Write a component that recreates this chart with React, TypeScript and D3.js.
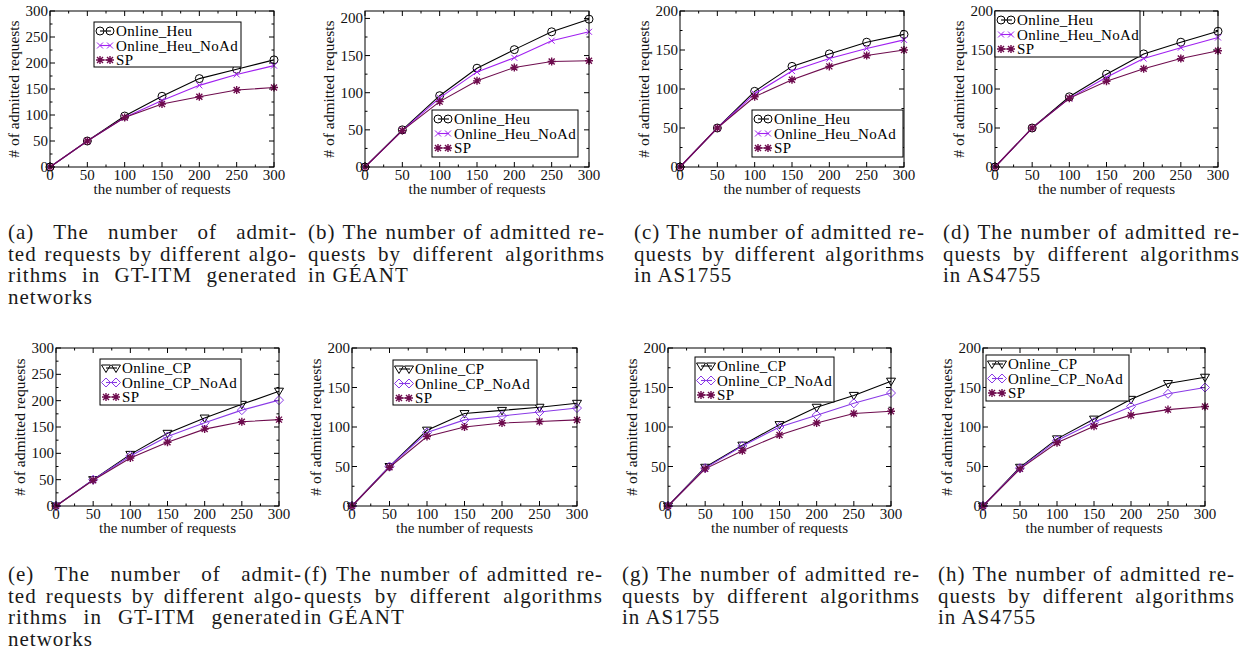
import React, { useLayoutEffect, useRef } from "react";
import * as d3 from "d3";

const requests = [0, 50, 100, 150, 200, 250, 300];

// top row: Online_Heu experiments
const heuGtItm = [0, 50, 98, 136, 170, 188, 206];
const heuNoAdGtItm = [0, 50, 95, 128, 157, 178, 195];
const spGtItmA = [0, 50, 95, 121, 135, 148, 153];
const heuGeant = [0, 50, 96, 133, 158, 182, 199];
const heuNoAdGeant = [0, 49, 93, 128, 147, 170, 182];
const spGeantB = [0, 49, 88, 116, 134, 142, 143];
const heuAs1755 = [0, 50, 97, 129, 145, 160, 170];
const heuNoAdAs1755 = [0, 50, 94, 123, 139, 152, 163];
const spAs1755C = [0, 50, 90, 112, 129, 143, 150];
const heuAs4755 = [0, 50, 90, 119, 145, 160, 174];
const heuNoAdAs4755 = [0, 50, 88, 115, 139, 153, 166];
const spAs4755D = [0, 50, 88, 110, 126, 139, 149];

// bottom row: Online_CP experiments
const cpGtItm = [0, 50, 98, 138, 167, 193, 218];
const cpNoAdGtItm = [0, 50, 95, 132, 158, 182, 201];
const spGtItmE = [0, 49, 91, 121, 146, 160, 164];
const cpGeant = [0, 50, 96, 117, 121, 125, 130];
const cpNoAdGeant = [0, 50, 93, 109, 114, 119, 124];
const spGeantF = [0, 49, 88, 100, 105, 107, 109];
const cpAs1755 = [0, 49, 77, 103, 125, 140, 158];
const cpNoAdAs1755 = [0, 48, 76, 100, 115, 130, 143];
const spAs1755G = [0, 47, 70, 90, 105, 117, 120];
const cpAs4755 = [0, 49, 85, 110, 135, 155, 163];
const cpNoAdAs4755 = [0, 48, 83, 106, 126, 142, 150];
const spAs4755H = [0, 47, 80, 101, 115, 122, 126];

const heuNames = ["Online_Heu", "Online_Heu_NoAd", "SP"];
const cpNames = ["Online_CP", "Online_CP_NoAd", "SP"];

const captionGtItm = (l: string) => [
  `(${l}) The number of admit-`,
  "ted requests by different algo-",
  "rithms in GT-ITM generated",
  "networks",
];
const captionNet = (l: string, net: string) => [
  `(${l}) The number of admitted re-`,
  "quests by different algorithms",
  `in ${net}`,
];

const BLACK = "#000000";
const VIOLET = "#a020f0";
const BLUEVIOLET = "#8a3ae6";
const MAROON = "#6e0c4e";
const SERIF = "'Liberation Serif', 'Times New Roman', serif";

const heuStyles = [
  { color: BLACK, marker: "circle" },
  { color: VIOLET, marker: "cross" },
  { color: MAROON, marker: "star" },
];
const cpStyles = [
  { color: BLACK, marker: "triangle" },
  { color: BLUEVIOLET, marker: "diamond" },
  { color: MAROON, marker: "star" },
];

const panels = [
  { left: 50, right: 274, top: 11, bottom: 167, yMax: 300, data: [heuGtItm, heuNoAdGtItm, spGtItmA], names: heuNames, styles: heuStyles, legend: [94, 22, 147, 45], caption: captionGtItm("a"), cx: 8, cw: 289, cy: 239 },
  { left: 365, right: 589, top: 11, bottom: 167, yMax: 210, data: [heuGeant, heuNoAdGeant, spGeantB], names: heuNames, styles: heuStyles, legend: [432, 110, 146, 47], caption: captionNet("b", "GÉANT"), cx: 308, cw: 297, cy: 239 },
  { left: 680, right: 904, top: 11, bottom: 167, yMax: 200, data: [heuAs1755, heuNoAdAs1755, spAs1755C], names: heuNames, styles: heuStyles, legend: [752, 110, 151, 47], caption: captionNet("c", "AS1755"), cx: 634, cw: 291, cy: 239 },
  { left: 995, right: 1218, top: 11, bottom: 167, yMax: 200, data: [heuAs4755, heuNoAdAs4755, spAs4755D], names: heuNames, styles: heuStyles, legend: [995, 11, 145, 46], caption: captionNet("d", "AS4755"), cx: 943, cw: 297, cy: 239 },
  { left: 56, right: 279, top: 348, bottom: 506, yMax: 300, data: [cpGtItm, cpNoAdGtItm, spGtItmE], names: cpNames, styles: cpStyles, legend: [100, 359, 141, 46], caption: captionGtItm("e"), cx: 8, cw: 294, cy: 581 },
  { left: 352, right: 577, top: 348, bottom: 506, yMax: 200, data: [cpGeant, cpNoAdGeant, spGeantF], names: cpNames, styles: cpStyles, legend: [393, 360, 144, 45], caption: captionNet("f", "GÉANT"), cx: 304, cw: 299, cy: 581 },
  { left: 668, right: 891, top: 348, bottom: 506, yMax: 200, data: [cpAs1755, cpNoAdAs1755, spAs1755G], names: cpNames, styles: cpStyles, legend: [695, 357, 139, 45], caption: captionNet("g", "AS1755"), cx: 622, cw: 298, cy: 581 },
  { left: 983, right: 1205, top: 348, bottom: 506, yMax: 200, data: [cpAs4755, cpNoAdAs4755, spAs4755H], names: cpNames, styles: cpStyles, legend: [986, 355, 143, 46], caption: captionNet("h", "AS4755"), cx: 938, cw: 297, cy: 581 },
];

function Marker({ type, x, y, color }: { type: string; x: number; y: number; color: string }) {
  const common = { stroke: color, strokeWidth: 1, fill: "none" };
  if (type === "circle") return <circle cx={x} cy={y} r={4} {...common} />;
  if (type === "cross")
    return <path d={`M${x - 3},${y - 3}L${x + 3},${y + 3}M${x - 3},${y + 3}L${x + 3},${y - 3}`} {...common} />;
  if (type === "star")
    return (
      <path
        d={`M${x - 3},${y - 3}L${x + 3},${y + 3}M${x - 3},${y + 3}L${x + 3},${y - 3}M${x - 4},${y}L${x + 4},${y}M${x},${y - 4}L${x},${y + 4}`}
        {...common}
        strokeWidth={1.4}
      />
    );
  if (type === "triangle")
    return <path d={`M${x - 4.5},${y - 3}L${x + 4.5},${y - 3}L${x},${y + 4.5}Z`} {...common} />;
  return <path d={`M${x},${y - 4.5}L${x + 4.5},${y}L${x},${y + 4.5}L${x - 4.5},${y}Z`} {...common} />;
}

function Panel({ p }: { p: any }) {
  const x = d3.scaleLinear().domain([0, 300]).range([p.left, p.right]);
  const y = d3.scaleLinear().domain([0, p.yMax]).range([p.bottom, p.top]);
  const xMajor = d3.range(0, 301, 50);
  const xMinor = d3.range(25, 300, 50);
  const yMajor = d3.range(0, p.yMax + 1, 50);
  const yMinor = d3.range(25, p.yMax, 50);
  const line = d3
    .line<number>()
    .x((_, i) => x(requests[i]))
    .y((d) => y(d));
  const maj = 5;
  const min = 2.5;
  const [lx, ly, lw, lh] = p.legend;
  return (
    <g>
      {/* ticks, inward on all four sides */}
      <g stroke="#000" strokeWidth={1}>
        {xMajor.map((t) => (
          <g key={"xM" + t}>
            <line x1={x(t)} x2={x(t)} y1={p.bottom} y2={p.bottom - maj} />
            <line x1={x(t)} x2={x(t)} y1={p.top} y2={p.top + maj} />
          </g>
        ))}
        {xMinor.map((t) => (
          <g key={"xm" + t}>
            <line x1={x(t)} x2={x(t)} y1={p.bottom} y2={p.bottom - min} />
            <line x1={x(t)} x2={x(t)} y1={p.top} y2={p.top + min} />
          </g>
        ))}
        {yMajor.map((t) => (
          <g key={"yM" + t}>
            <line x1={p.left} x2={p.left + maj} y1={y(t)} y2={y(t)} />
            <line x1={p.right} x2={p.right - maj} y1={y(t)} y2={y(t)} />
          </g>
        ))}
        {yMinor.map((t) => (
          <g key={"ym" + t}>
            <line x1={p.left} x2={p.left + min} y1={y(t)} y2={y(t)} />
            <line x1={p.right} x2={p.right - min} y1={y(t)} y2={y(t)} />
          </g>
        ))}
      </g>
      {/* series */}
      {p.data.map((vals: number[], si: number) => (
        <g key={si}>
          <path d={line(vals) || ""} fill="none" stroke={p.styles[si].color} strokeWidth={1.1} />
          {vals.map((v, i) => (
            <Marker key={i} type={p.styles[si].marker} x={x(requests[i])} y={y(v)} color={p.styles[si].color} />
          ))}
        </g>
      ))}
      <rect x={p.left} y={p.top} width={p.right - p.left} height={p.bottom - p.top} fill="none" stroke="#000" strokeWidth={1} />
      {/* tick labels */}
      <g fontFamily={SERIF} fontSize={15} fill="#111">
        {xMajor.map((t) => (
          <text key={"xl" + t} x={x(t)} y={p.bottom + 12.5} textAnchor="middle">
            {t}
          </text>
        ))}
        {yMajor.map((t) => (
          <text key={"yl" + t} x={p.left - 2} y={y(t) + 5} textAnchor="end">
            {t}
          </text>
        ))}
        <text x={(p.left + p.right) / 2} y={p.bottom + 27} textAnchor="middle">
          the number of requests
        </text>
        <text
          transform={`translate(${p.left - 36},${(p.top + p.bottom) / 2}) rotate(-90)`}
          textAnchor="middle"
          dy="0.35em"
          fontSize={15.5}
        >
          # of admitted requests
        </text>
      </g>
      {/* legend */}
      <rect x={lx} y={ly} width={lw} height={lh} fill="#fff" stroke="#000" strokeWidth={1} />
      {p.names.map((n: string, i: number) => {
        const cy = ly + 9 + i * 14.5;
        const c = p.styles[i].color;
        return (
          <g key={n}>
            <line x1={lx + 6} x2={lx + 17} y1={cy} y2={cy} stroke={c} strokeWidth={1.1} />
            <Marker type={p.styles[i].marker} x={lx + 6} y={cy} color={c} />
            <Marker type={p.styles[i].marker} x={lx + 16} y={cy} color={c} />
            <text x={lx + 22} y={cy + 5} fontFamily={SERIF} fontSize={15} letterSpacing={0.3} fill="#000">
              {n}
            </text>
          </g>
        );
      })}
      {/* caption */}
      <g fontFamily={SERIF} fontSize={21} fill="#1a1a1a" letterSpacing={1}>
        {p.caption.map((s: string, i: number) => (
          <text
            key={i}
            className={i < p.caption.length - 1 ? "justify" : ""}
            data-w={p.cw}
            x={p.cx}
            y={p.cy + i * 21.5}
          >
            {s}
          </text>
        ))}
      </g>
    </g>
  );
}

export default function App() {
  const ref = useRef<SVGSVGElement>(null);
  useLayoutEffect(() => {
    if (!ref.current) return;
    d3.select(ref.current)
      .selectAll<SVGTextElement, unknown>("text.justify")
      .each(function () {
        const el = this;
        el.setAttribute("word-spacing", "0");
        const target = +(el.getAttribute("data-w") || 0);
        const natural = el.getComputedTextLength();
        const spaces = (el.textContent || "").split(" ").length - 1;
        if (spaces > 0 && target > natural) {
          el.setAttribute("word-spacing", String((target - natural) / spaces));
        }
      });
  }, []);
  return (
    <svg
      ref={ref}
      width={1246}
      height={649}
      style={{ position: "absolute", left: 0, top: 0, background: "#fff" }}
    >
      <rect width={1246} height={649} fill="#fff" />
      {panels.map((p, i) => (
        <Panel key={i} p={p} />
      ))}
    </svg>
  );
}
